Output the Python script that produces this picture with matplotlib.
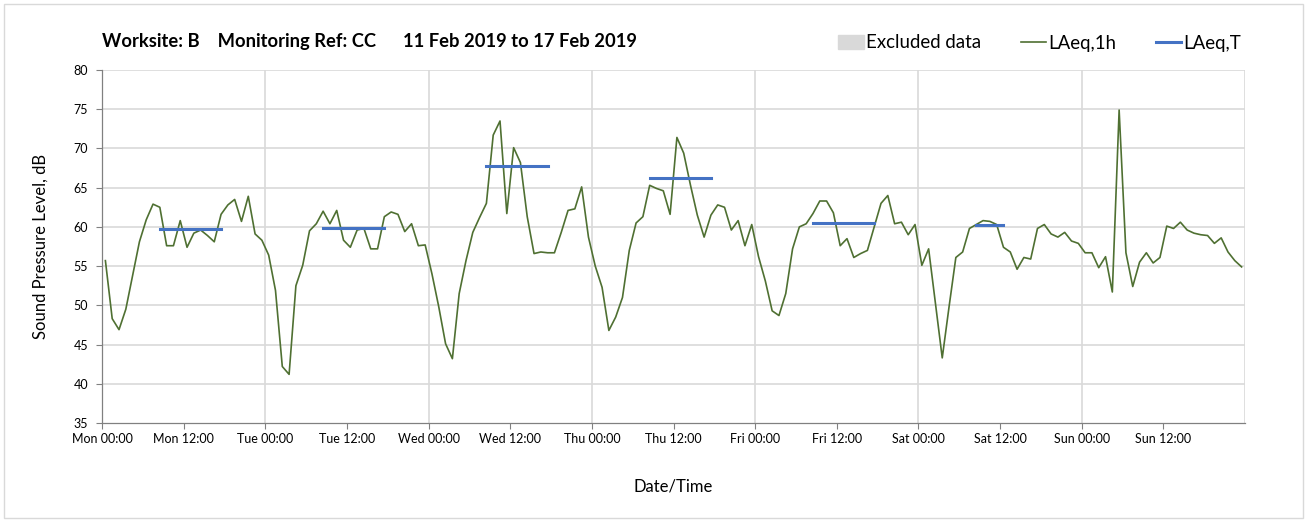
import matplotlib.pyplot as plt
import matplotlib.patches as mpatches
from matplotlib.lines import Line2D
import numpy as np

plt.rcParams['font.family'] = ['Lato', 'DejaVu Sans']

# hourly LAeq,1h values, Mon 00:00 .. Sun 23:00
laeq_1h = [
    55.7, 48.3, 46.9, 49.5, 53.8, 58.1, 60.9, 62.9, 62.5, 57.6, 57.6, 60.8,
    57.4, 59.2, 59.6, 58.9, 58.1, 61.6, 62.8, 63.5, 60.7, 63.9, 59.1, 58.3,
    56.4, 51.9, 42.2, 41.2, 52.5, 55.1, 59.5, 60.4, 62.0, 60.4, 62.1, 58.3,
    57.4, 59.6, 59.8, 57.2, 57.2, 61.3, 61.9, 61.6, 59.4, 60.4, 57.6, 57.7,
    54.0, 49.8, 45.1, 43.2, 51.5, 55.7, 59.3, 61.2, 63.0, 71.7, 73.5, 61.7,
    70.1, 68.2, 61.3, 56.6, 56.8, 56.7, 56.7, 59.3, 62.1, 62.3, 65.1, 58.7,
    55.0, 52.3, 46.8, 48.5, 51.0, 57.0, 60.5, 61.3, 65.3, 64.9, 64.6, 61.6,
    71.4, 69.4, 65.3, 61.5, 58.7, 61.5, 62.8, 62.5, 59.6, 60.8, 57.6, 60.3,
    56.2, 53.1, 49.3, 48.7, 51.5, 57.2, 60.0, 60.4, 61.7, 63.3, 63.3, 61.8,
    57.6, 58.5, 56.1, 56.6, 57.0, 60.0, 63.0, 64.0, 60.4, 60.6, 59.0, 60.3,
    55.1, 57.2, 50.2, 43.3, 49.8, 56.1, 56.8, 59.8, 60.3, 60.8, 60.7, 60.3,
    57.4, 56.8, 54.6, 56.1, 55.9, 59.8, 60.3, 59.1, 58.7, 59.3, 58.2, 57.9,
    56.7, 56.7, 54.8, 56.2, 51.7, 74.9, 56.7, 52.4, 55.5, 56.7, 55.4, 56.1,
    60.1, 59.8, 60.6, 59.6, 59.2, 59.0, 58.9, 57.9, 58.6, 56.8, 55.7, 54.9,
]

# LAeq,T working periods: (start hour, end hour, level)
period_start = [8, 32, 56, 80, 104, 128]
period_end = [17, 41, 65, 89, 113, 132]
period_level = [59.7, 59.9, 67.8, 66.2, 60.5, 60.2]

tick_labels = ['Mon 00:00', 'Mon 12:00', 'Tue 00:00', 'Tue 12:00', 'Wed 00:00',
               'Wed 12:00', 'Thu 00:00', 'Thu 12:00', 'Fri 00:00', 'Fri 12:00',
               'Sat 00:00', 'Sat 12:00', 'Sun 00:00', 'Sun 12:00']

green = '#4f7032'
blue = '#4472c4'
grid_col = '#d9d9d9'

fig = plt.figure(figsize=(13.07, 5.22), dpi=100)
ax = fig.add_axes([102 / 1307, 1 - 423 / 522, (1245 - 102) / 1307, (423 - 70) / 522])

hours = np.arange(len(laeq_1h)) + 0.5
ax.plot(hours, laeq_1h, color=green, lw=1.2, zorder=3)

for s, e, lv in zip(period_start, period_end, period_level):
    ax.plot([s + 0.5, e + 0.5], [lv, lv], color=blue, lw=2.2, zorder=4)

ax.set_xlim(0, 168)
ax.set_ylim(35, 80)
ax.set_yticks(np.arange(35, 81, 5))
ax.set_xticks(np.arange(0, 168, 12))
ax.set_xticklabels(tick_labels)
ax.tick_params(axis='both', labelsize=9, color='#808080', length=4, width=0.8)
ax.tick_params(axis='y', pad=6)

for y in np.arange(40, 81, 5):
    ax.axhline(y, color=grid_col, lw=1.2, zorder=1)
for x in np.arange(24, 169, 24):
    ax.axvline(x, color=grid_col, lw=1.2, zorder=1)

for side in ['top', 'right']:
    ax.spines[side].set_visible(False)
for side in ['left', 'bottom']:
    ax.spines[side].set_color('#808080')
    ax.spines[side].set_linewidth(0.9)

ax.set_ylabel('Sound Pressure Level, dB', fontsize=12, labelpad=18)
ax.set_xlabel('Date/Time', fontsize=12, labelpad=24)

fig.text(102 / 1307, 1 - 41 / 522,
         'Worksite: B    Monitoring Ref: CC      11 Feb 2019 to 17 Feb 2019',
         fontsize=13.2, fontweight='bold', va='center', ha='left')

handles = [mpatches.Patch(color=grid_col, label='Excluded data'),
           Line2D([0], [0], color=green, lw=1.2, label='LAeq,1h'),
           Line2D([0], [0], color=blue, lw=2.2, label='LAeq,T')]
fig.legend(handles=handles, loc='center right', bbox_to_anchor=(1258 / 1307, 1 - 43 / 522),
           ncol=3, frameon=False, fontsize=13.4, handlelength=1.35, handletextpad=0.15,
           columnspacing=2.1)

fig.add_artist(mpatches.Rectangle((4 / 1307, 4 / 522), 1 - 8 / 1307, 1 - 8 / 522,
                                  transform=fig.transFigure, fill=False,
                                  edgecolor='#d9d9d9', lw=1))

fig.savefig('out.png', dpi=100)
